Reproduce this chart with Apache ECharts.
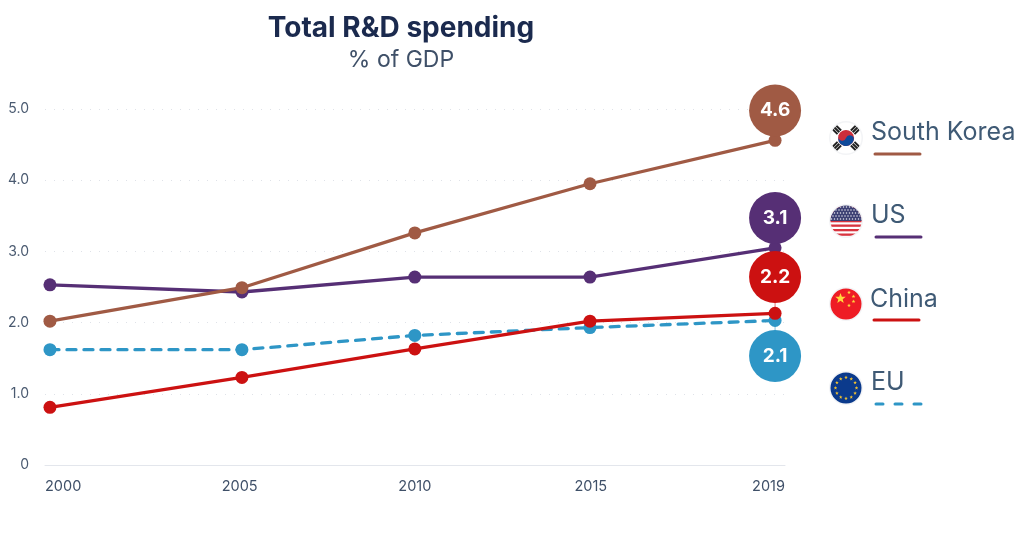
<!DOCTYPE html>
<html>
<head>
<meta charset="utf-8">
<style>html,body{margin:0;padding:0;background:#fff}#c{width:1024px;height:536px}</style>
<script src="https://cdn.jsdelivr.net/npm/echarts@6/dist/echarts.min.js"></script>
</head>
<body>
<div id="c"></div>
<script>
// x positions: the source spaces its years unevenly
var years = [2000, 2005.03, 2009.56, 2014.15, 2019];
var xTickLabels = ['2000', '2005', '2010', '2015', '2019'];
var xTickPlaces = [1999.87, 2004.97, 2009.56, 2014.17, 2019.26];
var yTicks = [0, 1, 2, 3, 4, 5];
var southKorea = [2.02, 2.49, 3.26, 3.95, 4.56];
var us = [2.53, 2.43, 2.64, 2.64, 3.05];
var china = [0.81, 1.23, 1.63, 2.02, 2.13];
var eu = [1.62, 1.62, 1.82, 1.93, 2.03];
var bubbleLabels = ['4.6', '3.1', '2.2', '2.1'];
var bubbleHeights = [4.98, 3.47, 2.64, 1.53];
var legendNames = ['South Korea', 'US', 'China', 'EU'];

var FONT = 'Inter, "Open Sans", sans-serif';
var C = {kr: '#a05a44', us: '#562f75', cn: '#cc1111', eu: '#2e96c6'};
var xMin = xTickPlaces[0], xMax = xTickPlaces[4];

function pairs(v) { return v.map(function (y, i) { return [years[i], y]; }); }
function lineSeries(name, vals, color, dashed) {
  return {
    name: name, type: 'line', data: pairs(vals), symbol: 'circle', symbolSize: 13,
    showSymbol: true, clip: false,
    lineStyle: {color: color, width: 3.3, type: dashed ? [9, 8] : 'solid', cap: 'round'},
    itemStyle: {color: color}, emphasis: {disabled: true}
  };
}
function svgUri(s) { return 'data:image/svg+xml;charset=utf-8,' + encodeURIComponent(s); }
function wrap(inner) {
  return '<svg xmlns="http://www.w3.org/2000/svg" width="64" height="64" viewBox="0 0 64 64"><defs><clipPath id="k"><circle cx="32" cy="32" r="31"/></clipPath></defs><g clip-path="url(#k)">' + inner + '</g></svg>';
}
function star(cx, cy, r, col) {
  var p = [];
  for (var i = 0; i < 10; i++) {
    var a = -Math.PI / 2 + i * Math.PI / 5, rr = i % 2 ? r * 0.42 : r;
    p.push((cx + rr * Math.cos(a)).toFixed(2) + ',' + (cy + rr * Math.sin(a)).toFixed(2));
  }
  return '<polygon points="' + p.join(' ') + '" fill="' + col + '"/>';
}
var usInner = '<rect width="64" height="64" fill="#fff"/>';
for (var i = 0; i < 7; i++) usInner += '<rect y="' + (3 + i * 9) + '" width="64" height="4.6" fill="#d8343f"/>';
usInner += '<rect width="64" height="32" fill="#3c3f73"/>';
for (var r = 0; r < 5; r++) for (var q = 0; q < 11; q++)
  usInner += '<circle cx="' + (3 + q * 6 + (r % 2) * 3) + '" cy="' + (4 + r * 6) + '" r="1.5" fill="#e8e8f0"/>';
var krInner = '<rect width="64" height="64" fill="#fff"/>' +
  '<g transform="rotate(20 32 32)"><circle cx="32" cy="32" r="16" fill="#cd2e3a"/><path d="M16 32 a16 16 0 0 0 32 0 a8 8 0 0 0 -16 0 a8 8 0 0 1 -16 0 z" fill="#0f4a9a"/></g>';
[[13,15,45],[51,15,-45],[13,49,-45],[51,49,45]].forEach(function (b) {
  krInner += '<g transform="translate(' + b[0] + ' ' + b[1] + ') rotate(' + b[2] + ')"><rect x="-8" y="-7" width="16" height="4" fill="#222"/><rect x="-8" y="-2" width="16" height="4" fill="#222"/><rect x="-8" y="3" width="16" height="4" fill="#222"/></g>';
});
var cnInner = '<rect width="64" height="64" fill="#ee1c25"/>' + star(21, 21, 11, '#ffd83d') +
  star(38, 9, 4, '#ffd83d') + star(47, 17, 4, '#ffd83d') + star(47, 27, 4, '#ffd83d') + star(38, 35, 4, '#ffd83d');
var euInner = '<rect width="64" height="64" fill="#0b3a8c"/>';
for (var j = 0; j < 12; j++) {
  var a = j * Math.PI / 6;
  euInner += star(32 + 21 * Math.cos(a), 32 + 21 * Math.sin(a), 3.8, '#f2c230');
}
var flags = [krInner, usInner, cnInner, euInner];
var flagY = [138, 221, 304, 388];
var flagX = [846, 846, 846, 846];
var textX = [871, 871, 870, 871];
var textY = [132, 215, 299, 382];
var ruleX = [875, 876, 874, 876];
var ruleY = [154, 237, 320, 404];
var legendColors = [C.kr, C.us, C.cn, C.eu];
var gfx = [];
legendNames.forEach(function (n, i) {
  gfx.push({type: 'circle', shape: {cx: flagX[i], cy: flagY[i], r: 17}, style: {fill: '#f3f4f6'}, silent: true});
  gfx.push({type: 'image', style: {image: svgUri(wrap(flags[i])), x: flagX[i] - 16, y: flagY[i] - 16, width: 32, height: 32}, silent: true});
  gfx.push({type: 'text', style: {text: n, x: textX[i], y: textY[i], font: '400 25px ' + FONT, fill: '#3f5a75', textAlign: 'left', textVerticalAlign: 'middle'}, silent: true});
  gfx.push({type: 'line', shape: {x1: ruleX[i], y1: ruleY[i], x2: ruleX[i] + 45, y2: ruleY[i]},
    style: {stroke: legendColors[i], lineWidth: 3, lineCap: 'round', lineDash: i === 3 ? [7, 12] : null}, silent: true});
});

var bubbleColors = [C.kr, C.us, C.cn, C.eu];
var endVals = [southKorea[4], us[4], china[4], eu[4]];
var series = [];
bubbleLabels.forEach(function (lab, i) {
  series.push({
    type: 'line', data: [[years[4], bubbleHeights[i]], [years[4], endVals[i]]], symbol: 'none', clip: false,
    lineStyle: {color: bubbleColors[i], width: 1, opacity: 0.6}, z: 1, emphasis: {disabled: true}
  });
});
series.push(
  lineSeries('US', us, C.us, false),
  lineSeries('South Korea', southKorea, C.kr, false),
  lineSeries('EU', eu, C.eu, true),
  lineSeries('China', china, C.cn, false)
);
series.push({
  type: 'scatter', symbolSize: 52, clip: false, z: 4,
  data: bubbleLabels.map(function (lab, i) {
    return {value: [years[4], bubbleHeights[i]], itemStyle: {color: bubbleColors[i], opacity: 1}};
  }),
  label: {show: true, position: 'inside', color: '#fff', fontFamily: FONT, fontWeight: 700, fontSize: 19,
    formatter: function (p) { return bubbleLabels[p.dataIndex]; }},
  emphasis: {disabled: true}
});

var chart = echarts.init(document.getElementById('c'), null, {renderer: 'canvas', width: 1024, height: 536});
chart.setOption({
  animation: false,
  backgroundColor: '#fff',
  title: {
    text: 'Total R&D spending', subtext: '% of GDP', left: 396, top: 10, textAlign: 'center', itemGap: 6,
    textStyle: {fontFamily: FONT, fontWeight: 700, fontSize: 28, color: '#1b2a4e'},
    subtextStyle: {fontFamily: FONT, fontWeight: 400, fontSize: 23, color: '#3f5068'}
  },
  grid: {left: 45, right: 239, top: 109, bottom: 71, containLabel: false},
  xAxis: {
    type: 'value', min: xMin, max: xMax,
    axisLine: {show: true, onZero: false, lineStyle: {color: '#e3e6ec', width: 1}},
    axisTick: {show: false}, splitLine: {show: false},
    axisLabel: {
      customValues: xTickPlaces,
      color: '#3f5068', fontFamily: FONT, fontSize: 14.5, margin: 14,
      alignMinLabel: 'left', alignMaxLabel: 'right', showMinLabel: true, showMaxLabel: true,
      formatter: function (v) {
        var best = 0;
        xTickPlaces.forEach(function (c, i) { if (Math.abs(c - v) < Math.abs(xTickPlaces[best] - v)) best = i; });
        return xTickLabels[best];
      }
    }
  },
  yAxis: {
    type: 'value', min: yTicks[0], max: yTicks[yTicks.length - 1], interval: 1,
    axisLine: {show: false}, axisTick: {show: false},
    axisLabel: {color: '#4a5a70', fontFamily: FONT, fontSize: 14, margin: 16, padding: [4, 0, 0, 0],
      formatter: function (v) { return v === 0 ? '0' : v.toFixed(1); }},
    splitLine: {show: true, lineStyle: {color: '#dfe2e8', width: 1, type: [1, 8]}}
  },
  series: series,
  graphic: gfx
});
</script>
</body>
</html>
